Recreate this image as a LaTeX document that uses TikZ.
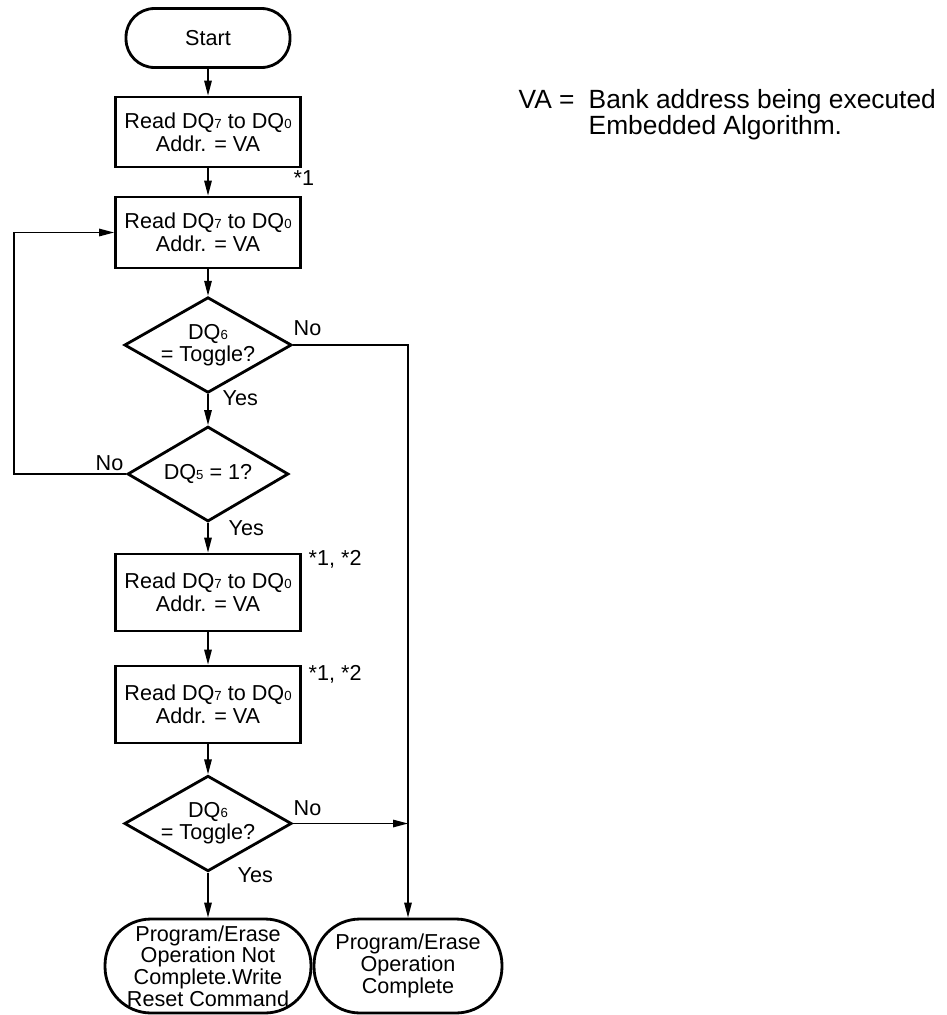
\documentclass[tikz,border=0pt]{standalone}
\usepackage{fontspec}
\setmainfont{Liberation Sans}
\usetikzlibrary{shapes.geometric,arrows.meta}
\newcommand{\dqbit}[1]{DQ{\fontsize{7.5}{8}\selectfont #1}}

\begin{document}
\begin{tikzpicture}[x=0.02cm,y=-0.02cm,line width=0.8pt,
  >={Triangle[length=0.3cm,width=0.15cm]},
  box/.style={draw,line width=1.6pt,minimum width=3.7cm,inner sep=0pt,align=center,font=\fontsize{12.3}{13}\selectfont},
  decision/.style={draw,diamond,aspect=1.75,line width=1.6pt,minimum width=3.28cm,minimum height=1.88cm,inner sep=0pt,align=center,font=\fontsize{12.3}{12.6}\selectfont},
  terminal/.style={draw,line width=1.6pt,rounded corners=0.92cm,minimum height=1.88cm,inner sep=0pt,align=center,font=\fontsize{12.3}{12.3}\selectfont},
  tag/.style={inner sep=0pt,font=\fontsize{12.3}{13}\selectfont}]
\useasboundingbox (0,0) rectangle (947,1015);

\node[terminal,rounded corners=0.57cm,minimum width=3.28cm,minimum height=1.18cm] (start) at (208,38) {Start};
\node[box,minimum height=1.4cm] (read1) at (208,132) {Read \dqbit{7} to \dqbit{0}\\Addr. = VA};
\node[box,minimum height=1.42cm] (read2) at (208,232.5) {Read \dqbit{7} to \dqbit{0}\\Addr. = VA};
\node[decision] (tog1) at (208,345) {\dqbit{6}\\= Toggle?};
\node[decision,minimum width=3.22cm,minimum height=1.9cm] (dq5) at (208,474) {\dqbit{5} = 1?};
\node[box,minimum height=1.54cm] (read3) at (208,592.5) {Read \dqbit{7} to \dqbit{0}\\Addr. = VA};
\node[box,minimum height=1.54cm] (read4) at (208,704.5) {Read \dqbit{7} to \dqbit{0}\\Addr. = VA};
\node[decision,minimum height=1.86cm] (tog2) at (208,823.5) {\dqbit{6}\\= Toggle?};
\node[terminal,minimum width=4.12cm] (notdone) at (208,966) {Program/Erase\\Operation Not\\Complete.Write\\Reset Command};
\node[terminal,minimum width=3.76cm] (done) at (408,966) {Program/Erase\\Operation\\Complete};

% notes beside the boxes
\node[tag,anchor=base west] (n1) at (293,185) {*1};
\node[tag,anchor=base west] (n12a) at (308,565) {*1, *2};
\node[tag,anchor=base west] (n12b) at (308,680) {*1, *2};
\node[tag,anchor=base west] (no1) at (293,335) {No};
\node[tag,anchor=base west] (yes1) at (222,405) {Yes};
\node[tag,anchor=base west] (no2) at (95,470) {No};
\node[tag,anchor=base west] (yes2) at (228,535) {Yes};
\node[tag,anchor=base west] (no3) at (293,815) {No};
\node[tag,anchor=base west] (yes3) at (237,882) {Yes};

\node[tag,anchor=base west,font=\fontsize{15}{15}\selectfont] (vaeq) at (518,108) {VA =};
\node[tag,anchor=north west,align=left,font=\fontsize{15}{14.5}\selectfont] (vatext) at (588,89) {Bank address being executed\\Embedded Algorithm.};

\coordinate (loop) at (14,474);
\coordinate (join) at (done.north |- tog2.east);

\draw[->] (start) -- (read1);
\draw[->] (read1) -- (read2);
\draw[->] (read2) -- (tog1);
\draw[->] (tog1) -- (dq5);
\draw[->] (dq5) -- (read3);
\draw[->] (read3) -- (read4);
\draw[->] (read4) -- (tog2);
\draw[->] (tog2) -- (notdone);
\draw[->] (dq5.west) -- (loop) |- (read2.west);
\draw[->] (tog1.east) -| (done.north);
\draw[->] (tog2.east) -- (join);
\end{tikzpicture}
\end{document}
